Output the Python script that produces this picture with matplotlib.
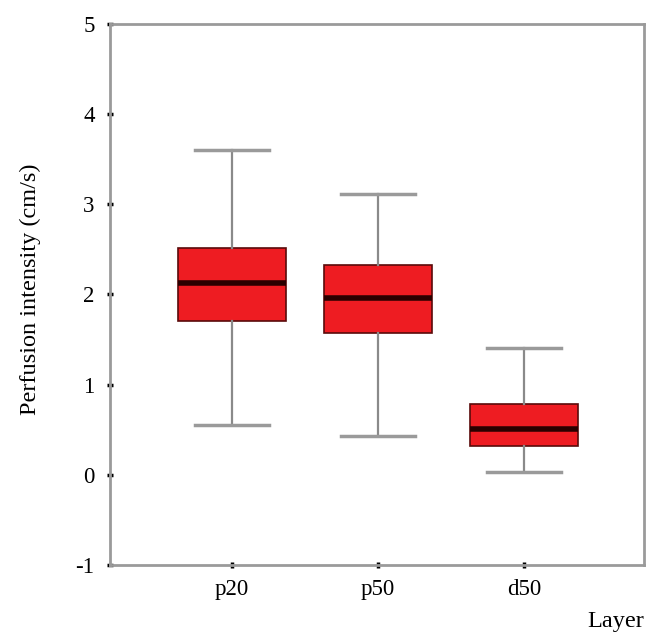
import matplotlib
matplotlib.use("Agg")
import matplotlib.pyplot as plt

layers = ["p20", "p50", "d50"]
whisk_hi = [3.60, 3.11, 1.41]
q3 = [2.51, 2.33, 0.79]
median = [2.13, 1.96, 0.51]
q1 = [1.71, 1.57, 0.32]
whisk_lo = [0.55, 0.43, 0.03]
y_ticks = [-1, 0, 1, 2, 3, 4, 5]

plt.rcParams['font.family'] = ['Liberation Serif', 'DejaVu Serif']

stats = []
for name, hi, a3, m, a1, lo in zip(layers, whisk_hi, q3, median, q1, whisk_lo):
    stats.append({'label': name, 'whishi': hi, 'q3': a3, 'med': m,
                  'q1': a1, 'whislo': lo, 'fliers': []})

fig = plt.figure(figsize=(6.46, 6.43), dpi=100)
ax = fig.add_axes([0.170, 0.121, 0.827, 0.842])

gray = '#9a9a9a'
ax.bxp(stats, positions=[1, 2, 3], widths=0.74, capwidths=0.51,
       patch_artist=True, showfliers=False,
       boxprops=dict(facecolor='#ee1c22', edgecolor='#5a0a0a', linewidth=1.2),
       medianprops=dict(color='#2a0000', linewidth=4),
       whiskerprops=dict(color='#8a8a8a', linewidth=1.6),
       capprops=dict(color=gray, linewidth=2.5))

ax.set_xlim(0.165, 3.82)
ax.set_ylim(-1, 5)
ax.set_yticks(y_ticks)
ax.set_yticklabels([str(v) for v in y_ticks])
ax.set_xticks([1, 2, 3])
ax.set_xticklabels(layers)

for s in ax.spines.values():
    s.set_color(gray)
    s.set_linewidth(2)

ax.tick_params(axis='both', direction='inout', length=4, width=2.5,
               color='black', labelsize=16.5, pad=8)
ax.tick_params(axis='y', pad=9)

ax.set_ylabel('Perfusion intensity (cm/s)', fontsize=17.5)
ax.yaxis.set_label_coords(-0.128, 0.51)
fig.text(0.997, 1 - 621 / 643, 'Layer', fontsize=17.5, ha='right', va='center')

fig.savefig('out.png', dpi=100)
